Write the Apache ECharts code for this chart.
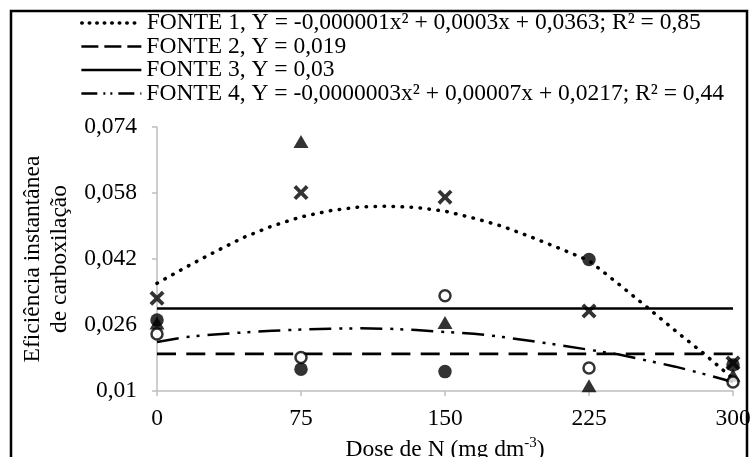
<!DOCTYPE html>
<html>
<head>
<meta charset="utf-8">
<script src="https://cdn.jsdelivr.net/npm/echarts@6/dist/echarts.min.js"></script>
<style>html,body{margin:0;padding:0;background:#fff}#c{width:755px;height:457px}</style>
</head>
<body>
<div id="c"></div>
<script>
// ---- data ----
const doses = [0, 75, 150, 225, 300];
const xTickLabels = ['0', '75', '150', '225', '300'];
const yTickLabels = ['0,01', '0,026', '0,042', '0,058', '0,074'];

// observed points
const fonte1Obs = [0.0325, 0.0581, 0.0570, 0.0294, 0.0168];   // ×
const fonte2Obs = [0.0272, 0.0153, 0.0147, 0.0419, 0.0163];   // ●
const fonte3Obs = [0.0265, 0.0705, 0.0266, 0.0113, 0.0138];   // ▲
const fonte4Obs = [0.0238, 0.0181, 0.0331, 0.0156, 0.0122];   // ○

// fitted curves
const fitX = [0,15,30,45,60,75,90,105,120,135,150,165,180,195,210,225,240,255,270,285,300];
const fit1Y = [0.0361,0.0400,0.0437,0.0472,0.0500,0.0522,0.0537,0.0546,0.0548,0.0545,0.0536,0.0519,0.0499,0.0473,0.0445,0.0416,0.0361,0.0304,0.0246,0.0190,0.0130];
const fit4Y = [0.0219,0.0231,0.0237,0.0242,0.0246,0.0249,0.0251,0.0252,0.0251,0.0248,0.0243,0.0239,0.0231,0.0221,0.0211,0.0200,0.0189,0.0174,0.0159,0.0141,0.0122];
const fonte2Level = [0.019, 0.019];
const fonte3Level = [0.03, 0.03];
const levelX = [0, 300];

const names = [
  'FONTE 1, Y = -0,000001x² + 0,0003x + 0,0363; R² = 0,85',
  'FONTE 2, Y = 0,019',
  'FONTE 3, Y = 0,03',
  'FONTE 4, Y = -0,0000003x² + 0,00007x + 0,0217; R² = 0,44'
];

const FF = "'Liberation Serif','Times New Roman',serif";
const FS = 23.5;
const zip = (xs, ys) => xs.map((x, i) => [x, ys[i]]);
const crossPath = 'path://M0,1.8 L1.8,0 L5,3.2 L8.2,0 L10,1.8 L6.8,5 L10,8.2 L8.2,10 L5,6.8 L1.8,10 L0,8.2 L3.2,5 Z';

const rowCenters = [23, 46.5, 70, 93.5];
const legendIconStyles = [
  {type: [0.5, 7], width: 3.5, cap: 'round', color: '#000'},
  {type: [17, 6], width: 2.7, color: '#000'},
  {type: 'solid', width: 2.7, color: '#000'},
  {type: [16, 6, 2, 5, 2, 6], width: 2.7, color: '#000'}
];

const legends = names.map((n, i) => ({
  orient: 'vertical', left: 80, top: rowCenters[i] - 12, padding: 0,
  itemWidth: 60, itemHeight: 14, selectedMode: false,
  textStyle: {fontFamily: FF, fontSize: FS, color: '#000', lineHeight: 24},
  data: [{name: n, lineStyle: legendIconStyles[i], itemStyle: {opacity: 0}}]
}));

const option = {
  animation: false,
  backgroundColor: '#fff',
  color: ['#000'],
  legend: legends,
  grid: {left: 157, right: 22, top: 127, bottom: 66, containLabel: false, outerBoundsMode: 'none'},
  xAxis: {
    type: 'value', min: 0, max: 300, interval: 75,
    axisLine: {show: true, onZero: false, lineStyle: {color: '#bfbfbf', width: 1.5}},
    axisTick: {show: true, length: 5, lineStyle: {color: '#bfbfbf', width: 1.5}},
    splitLine: {show: false},
    axisLabel: {color: '#000', fontFamily: FF, fontSize: FS, margin: 16,
      formatter: v => xTickLabels[doses.indexOf(v)]},
    name: '{a|Dose de N (mg dm}{s|-3}{a|)}',
    nameLocation: 'middle', nameGap: 43,
    nameTextStyle: {color: '#000', fontFamily: FF, fontSize: FS,
      rich: {a: {fontFamily: FF, fontSize: FS, color: '#000', lineHeight: 26},
             s: {fontFamily: FF, fontSize: 15, color: '#000', lineHeight: 26, padding: [0, 0, 12, 0]}}}
  },
  yAxis: {
    type: 'value', min: 0.01, max: 0.074, interval: 0.016,
    axisLine: {show: true, lineStyle: {color: '#bfbfbf', width: 1.5}},
    axisTick: {show: true, length: 5, lineStyle: {color: '#bfbfbf', width: 1.5}},
    splitLine: {show: false},
    axisLabel: {color: '#000', fontFamily: FF, fontSize: FS, margin: 20,
      formatter: v => yTickLabels[Math.round((v - 0.01) / 0.016)]},
    name: 'Eficiência instantânea\nde carboxilação',
    nameLocation: 'middle', nameGap: 82,
    nameTextStyle: {color: '#000', fontFamily: FF, fontSize: FS, lineHeight: 27}
  },
  graphic: [{
    type: 'rect', silent: true, z: 100,
    shape: {x: 11, y: 11, width: 736, height: 470},
    style: {fill: 'none', stroke: '#000', lineWidth: 2.5}
  }],
  series: [
    {name: names[0], type: 'line', symbol: 'none', data: zip(fitX, fit1Y), z: 2, color: '#000',
      lineStyle: {color: '#000', width: 3.5, type: [0.5, 8.5], cap: 'round'}},
    {name: names[1], type: 'line', symbol: 'none', data: zip(levelX, fonte2Level), z: 2, color: '#000',
      lineStyle: {color: '#000', width: 2.7, type: [19, 10.3]}},
    {name: names[2], type: 'line', symbol: 'none', data: zip(levelX, fonte3Level), z: 2, color: '#000',
      lineStyle: {color: '#000', width: 2.7, type: 'solid'}},
    {name: names[3], type: 'line', symbol: 'none', data: zip(fitX, fit4Y), z: 2, color: '#000',
      lineStyle: {color: '#000', width: 2.5, type: [22, 8, 3, 7, 3, 8]}},
    {name: 'obs1', type: 'scatter', symbol: crossPath, symbolSize: 15, z: 5,
      itemStyle: {color: '#000'}, data: zip(doses, fonte1Obs)},
    {name: 'obs2', type: 'scatter', symbol: 'circle', symbolSize: 13.5, z: 5,
      itemStyle: {color: '#000'}, data: zip(doses, fonte2Obs)},
    {name: 'obs3', type: 'scatter', symbol: 'triangle', symbolSize: [15, 13], z: 5,
      itemStyle: {color: '#000'}, data: zip(doses, fonte3Obs)},
    {name: 'obs4', type: 'scatter', symbol: 'circle', symbolSize: 11, z: 5,
      itemStyle: {color: '#fff', borderColor: '#000', borderWidth: 2.5}, data: zip(doses, fonte4Obs)}
  ]
};

const chart = echarts.init(document.getElementById('c'), null, {renderer: 'canvas'});
chart.setOption(option);
</script>
</body>
</html>
